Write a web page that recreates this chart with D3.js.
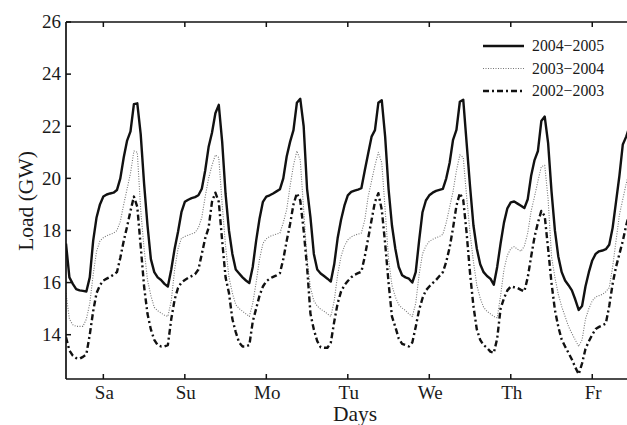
<!DOCTYPE html>
<html>
<head>
<meta charset="utf-8">
<script src="https://cdn.jsdelivr.net/npm/d3@7"></script>
<style>
html,body{margin:0;padding:0;background:#fff;}
svg{display:block;}
text{font-family:"Liberation Serif","Times New Roman",serif;fill:#1a1a1a;}
</style>
</head>
<body>
<svg id="chart" width="627" height="425"></svg>
<script>
// Hourly load values (GW), hours 1..168 starting Saturday
const hours = d3.range(1, 169);
const dayLabels = ["Sa","Su","Mo","Tu","We","Th","Fr"];
const dayTickHours = [12, 36, 60, 84, 108, 132, 156];
const yTicks = [14, 16, 18, 20, 22, 24, 26];
const seriesNames = ["2004\u22122005", "2003\u22122004", "2002\u22122003"];

const load2004 = [
17.5,16.2,15.95,15.75,15.7,15.68,15.66,16.2,17.6,18.5,19.0,19.3,19.38,19.42,19.45,19.55,20.0,20.8,21.45,21.8,22.85,22.88,21.7,19.8,
18.2,16.9,16.4,16.2,16.1,15.95,15.85,16.5,17.3,17.95,18.7,19.1,19.18,19.24,19.28,19.35,19.6,20.3,21.2,21.75,22.5,22.82,21.4,19.4,
18.0,17.1,16.5,16.35,16.2,16.08,15.98,16.6,17.6,18.45,19.1,19.3,19.35,19.42,19.5,19.58,20.0,20.84,21.4,21.85,22.9,23.05,22.0,19.6,
18.5,17.1,16.5,16.35,16.25,16.15,16.04,16.7,17.7,18.4,18.95,19.35,19.48,19.53,19.57,19.62,20.3,20.95,21.6,21.85,22.9,23.0,21.6,19.6,
18.2,17.3,16.6,16.28,16.2,16.15,16.0,16.4,17.6,18.7,19.15,19.35,19.45,19.52,19.56,19.6,20.0,20.6,21.48,21.86,22.94,23.02,21.35,19.7,
18.2,17.3,16.7,16.4,16.25,16.15,15.92,16.6,17.5,18.3,18.85,19.08,19.11,19.03,18.95,18.86,19.2,20.1,20.7,21.05,22.2,22.37,21.35,19.5,
18.0,17.0,16.4,16.08,15.9,15.7,15.35,14.95,15.1,15.85,16.4,16.85,17.1,17.2,17.23,17.28,17.45,18.1,19.1,20.1,21.3,21.6,22.0,22.4
];
const load2003 = [
15.6,14.6,14.38,14.32,14.32,14.32,14.6,15.2,16.3,17.2,17.6,17.72,17.8,17.85,17.9,18.0,18.35,19.0,19.6,20.2,21.05,21.0,18.8,17.3,
16.1,15.5,15.05,14.92,14.83,14.75,14.7,15.3,16.5,17.3,17.7,17.77,17.82,17.87,17.92,18.1,18.5,19.3,20.0,20.5,20.9,20.8,19.0,17.4,
16.2,15.6,15.15,15.0,14.9,14.8,14.7,15.2,16.0,16.9,17.5,17.68,17.77,17.82,17.86,17.9,18.3,18.8,19.7,20.5,21.05,20.7,18.8,16.9,
15.8,15.3,15.1,14.98,14.9,14.8,14.7,15.3,16.3,17.0,17.4,17.64,17.75,17.82,17.86,17.9,18.4,19.3,19.9,20.5,21.0,20.6,18.8,16.9,
15.9,15.45,15.15,15.02,14.93,14.8,14.7,15.2,16.3,17.1,17.4,17.58,17.66,17.72,17.77,17.85,18.3,18.9,19.5,20.3,20.9,20.8,19.3,17.9,
16.8,15.9,15.4,15.05,14.9,14.8,14.7,14.65,15.5,16.5,17.05,17.3,17.38,17.28,17.2,17.4,17.9,18.75,19.3,19.9,20.45,20.5,19.2,17.0,
16.2,15.55,15.08,14.7,14.32,14.05,13.8,13.55,13.8,14.6,15.0,15.3,15.45,15.5,15.55,15.65,15.8,16.6,17.6,18.6,19.2,19.8,20.3,20.8
];
const load2002 = [
13.9,13.4,13.2,13.1,13.08,13.15,13.25,14.0,14.9,15.6,15.9,16.08,16.15,16.22,16.3,16.4,16.95,17.6,18.15,18.75,19.3,18.9,17.4,15.85,
14.8,14.2,13.8,13.6,13.55,13.55,13.6,14.6,15.35,15.8,16.0,16.1,16.18,16.25,16.32,16.5,17.1,17.7,18.1,19.1,19.45,19.1,17.6,16.2,
15.6,14.6,14.1,13.7,13.55,13.55,13.6,14.5,15.0,15.5,15.85,16.05,16.15,16.22,16.28,16.36,16.9,17.6,18.25,19.0,19.43,19.15,18.0,16.6,
14.8,14.2,13.75,13.52,13.5,13.5,13.7,14.5,15.2,15.65,15.9,16.06,16.2,16.3,16.36,16.42,17.0,17.7,18.4,19.1,19.43,18.8,17.5,16.0,
14.7,14.3,13.85,13.65,13.6,13.55,13.7,14.3,14.95,15.4,15.7,15.85,15.98,16.1,16.25,16.4,16.8,17.35,18.1,18.95,19.43,19.17,17.9,16.36,
15.1,14.2,13.8,13.6,13.5,13.35,13.3,13.85,15.0,15.4,15.7,15.85,15.82,15.79,15.72,15.66,16.2,17.0,17.75,18.3,18.75,18.55,17.3,15.98,
14.95,14.3,13.81,13.55,13.3,13.05,12.75,12.48,12.9,13.45,13.75,14.0,14.22,14.3,14.36,14.43,15.1,15.95,16.6,17.1,17.6,18.2,18.7,19.2
];

const svg = d3.select("#chart");
svg.append("rect").attr("width",627).attr("height",425).attr("fill","#fff");

const plotLeft = 66, plotTop = 22, plotBottom = 379, plotRight = 633;
const x = d3.scaleLinear().domain([1, 168]).range([plotLeft, plotRight]);
const y = d3.scaleLinear().domain([12.3, 26]).range([plotBottom, plotTop]);

svg.append("clipPath").attr("id","clip").append("rect")
  .attr("x", plotLeft).attr("y", plotTop).attr("width", 627 - plotLeft).attr("height", plotBottom - plotTop);

const styles = [
  {data: load2004, stroke:"#111", width:2.4, dash:null},
  {data: load2003, stroke:"#777", width:1.1, dash:"1,1.5"},
  {data: load2002, stroke:"#111", width:2.4, dash:"6,3,2,3"}
];

const line = d3.line().x((d,i)=>x(hours[i])).y(d=>y(d));
const g = svg.append("g").attr("clip-path","url(#clip)");
styles.forEach(s=>{
  g.append("path").datum(s.data).attr("d", line)
    .attr("fill","none").attr("stroke", s.stroke).attr("stroke-width", s.width)
    .attr("stroke-dasharray", s.dash).attr("stroke-linejoin","round");
});

// Frame
const axisColor = "#111";
svg.append("line").attr("x1",plotLeft).attr("x2",plotLeft).attr("y1",plotTop).attr("y2",plotBottom)
  .attr("stroke",axisColor).attr("stroke-width",1.7);
svg.append("line").attr("x1",plotLeft).attr("x2",627).attr("y1",plotTop).attr("y2",plotTop)
  .attr("stroke",axisColor).attr("stroke-width",1.7);
svg.append("line").attr("x1",plotLeft).attr("x2",627).attr("y1",plotBottom).attr("y2",plotBottom)
  .attr("stroke",axisColor).attr("stroke-width",1.7);

// Y ticks (inward) and labels
yTicks.forEach(t=>{
  svg.append("line").attr("x1",plotLeft).attr("x2",plotLeft+5).attr("y1",y(t)).attr("y2",y(t))
    .attr("stroke",axisColor).attr("stroke-width",1.5);
  svg.append("text").attr("x",plotLeft-5).attr("y",y(t)).attr("dy","0.33em")
    .attr("text-anchor","end").attr("font-size",19).text(t);
});

// X ticks (inward, top and bottom) and labels
dayTickHours.forEach((h,i)=>{
  svg.append("line").attr("x1",x(h)).attr("x2",x(h)).attr("y1",plotBottom).attr("y2",plotBottom-5)
    .attr("stroke",axisColor).attr("stroke-width",1.5);
  svg.append("line").attr("x1",x(h)).attr("x2",x(h)).attr("y1",plotTop).attr("y2",plotTop+5)
    .attr("stroke",axisColor).attr("stroke-width",1.5);
  svg.append("text").attr("x",x(h)+1).attr("y",399).attr("text-anchor","middle")
    .attr("font-size",19).text(dayLabels[i]);
});

// Axis titles
svg.append("text").attr("x",355).attr("y",421).attr("text-anchor","middle")
  .attr("font-size",21.5).text("Days");
svg.append("text").attr("transform","translate(33,201) rotate(-90)")
  .attr("text-anchor","middle").attr("font-size",21.5).text("Load (GW)");

// Legend
const legY = [46, 68.5, 91];
styles.forEach((s,i)=>{
  svg.append("line").attr("x1",483).attr("x2",524).attr("y1",legY[i]).attr("y2",legY[i])
    .attr("stroke",s.stroke).attr("stroke-width",s.width).attr("stroke-dasharray",s.dash);
  svg.append("text").attr("x",532).attr("y",legY[i]).attr("dy","0.34em")
    .attr("font-size",15.8).text(seriesNames[i]);
});
</script>
</body>
</html>
